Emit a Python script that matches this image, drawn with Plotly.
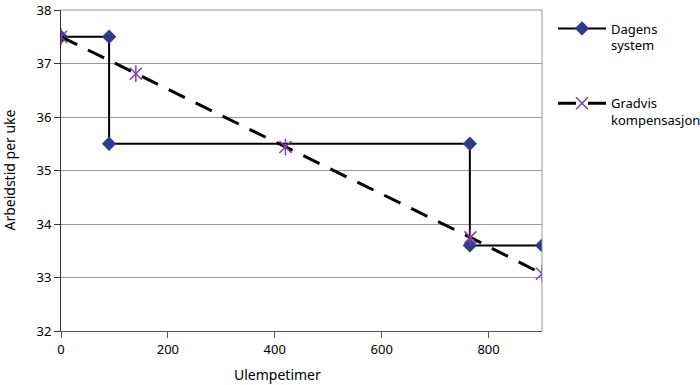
import plotly.graph_objects as go

dagens_x = [0, 90, 90, 765, 765, 900]
dagens_y = [37.5, 37.5, 35.5, 35.5, 33.6, 33.6]
gradvis_x = [0, 140, 420, 766, 900]
gradvis_y = [37.5, 36.81, 35.44, 33.75, 33.07]
x_ticks = [0, 200, 400, 600, 800]
y_ticks = [32, 33, 34, 35, 36, 37, 38]

font = "Noto Sans"
purple = "#8040A0"
fig = go.Figure()
fig.add_trace(go.Scatter(
    x=dagens_x, y=dagens_y, mode="lines+markers", name="Dagens<br>system",
    line=dict(color="black", width=2),
    marker=dict(symbol="diamond", size=11, color="#2E3A8C"),
    legendgroup="a", legendrank=1,
))
fig.add_trace(go.Scatter(
    x=gradvis_x, y=gradvis_y, mode="lines+markers", name="Gradvis<br>kompensasjon",
    line=dict(color="black", width=3, dash="18px,12px"),
    marker=dict(symbol="x-thin-open", size=12, color=purple, line=dict(color=purple, width=1.5)),
    legendgroup="b", legendrank=2,
))
fig.add_trace(go.Scatter(
    x=gradvis_x, y=gradvis_y, mode="markers", showlegend=False,
    marker=dict(symbol="line-ns-open", size=12, color=purple, line=dict(color=purple, width=1.5)),
))

fig.update_layout(
    width=700, height=385,
    margin=dict(l=61, r=158, t=10, b=54),
    paper_bgcolor="white", plot_bgcolor="white",
    font=dict(family=font, size=13, color="black"),
    showlegend=True,
    legend=dict(xref="container", yref="container", x=0.79, y=0.965,
                xanchor="left", yanchor="top", valign="top",
                tracegroupgap=38, itemwidth=48,
                font=dict(family=font, size=13)),
    xaxis=dict(range=[0, 900], tickvals=x_ticks, showgrid=False,
               showline=True, linecolor="#555555", ticks="outside", ticklen=6,
               tickcolor="#555555", zeroline=False, automargin=False),
    yaxis=dict(range=[32, 38], tickvals=y_ticks, showgrid=True, gridcolor="#999999",
               showline=True, linecolor="#333333", ticks="outside", ticklen=6,
               tickcolor="#333333", zeroline=False, automargin=False,
               ticklabeloverflow="allow"),
    annotations=[
        dict(text="Ulempetimer", xref="paper", yref="paper", x=0.45, y=-0.137,
             xanchor="center", yanchor="middle", showarrow=False,
             font=dict(family=font, size=14)),
        dict(text="Arbeidstid per uke", xref="paper", yref="paper", x=-0.108, y=0.5,
             xanchor="center", yanchor="middle", textangle=-90, showarrow=False,
             font=dict(family=font, size=14)),
    ],
)
fig.add_shape(type="line", xref="paper", yref="paper", x0=1, x1=1, y0=0, y1=1,
              line=dict(color="#999999", width=1))
fig.add_shape(type="line", xref="paper", yref="paper", x0=0, x1=1, y0=1, y1=1,
              line=dict(color="#999999", width=1), layer="below")
fig.write_html("out.html", config={"displayModeBar": False},
               post_script="document.body.style.margin='0px';")
